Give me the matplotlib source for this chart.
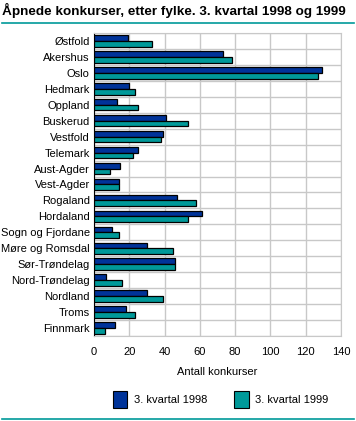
import numpy as np
import matplotlib
matplotlib.use("Agg")
import matplotlib.pyplot as plt
from matplotlib.lines import Line2D

fylker = ["Østfold", "Akershus", "Oslo", "Hedmark", "Oppland", "Buskerud",
          "Vestfold", "Telemark", "Aust-Agder", "Vest-Agder", "Rogaland",
          "Hordaland", "Sogn og Fjordane", "Møre og Romsdal", "Sør-Trøndelag",
          "Nord-Trøndelag", "Nordland", "Troms", "Finnmark"]
kv1998 = [19, 73, 129, 20, 13, 41, 39, 25, 15, 14, 47, 61, 10, 30, 46, 7, 30, 18, 12]
kv1999 = [33, 78, 127, 23, 25, 53, 38, 22, 9, 14, 58, 53, 14, 45, 46, 16, 39, 23, 6]

blue = "#003399"
teal = "#009999"
grid = "#c8c8c8"

plt.rcParams["font.family"] = ["Liberation Sans", "DejaVu Sans"]

fig = plt.figure(figsize=(3.56, 4.21), dpi=100)
ax = fig.add_axes([0.264, 0.202, 0.694, 0.7196])

y = np.arange(len(fylker))
h = 0.36
ax.barh(y - h / 2, kv1998, height=h, color=blue, edgecolor="black", linewidth=0.9, zorder=3)
ax.barh(y + h / 2, kv1999, height=h, color=teal, edgecolor="black", linewidth=0.9, zorder=3)

ax.set_ylim(len(fylker) - 0.5, -0.5)
ax.set_xlim(0, 140)
ax.set_xticks(range(0, 141, 20))
ax.set_yticks(y)
ax.set_yticklabels(fylker, fontsize=8)
ax.tick_params(axis="x", labelsize=8, length=0, pad=8)
ax.tick_params(axis="y", length=0, pad=3)

# horizontal grid between the categories
ax.set_yticks(np.arange(-0.5, len(fylker), 1), minor=True)
ax.grid(True, which="minor", axis="y", color=grid, linewidth=1, zorder=0)
ax.grid(True, which="major", axis="x", color=grid, linewidth=1, zorder=0)
ax.tick_params(axis="y", which="minor", length=0)
for s in ax.spines.values():
    s.set_color(grid)
ax.spines["left"].set_color("black")

ax.set_xlabel("Antall konkurser", fontsize=8, labelpad=7)

fig.text(0.006, 0.976, "Åpnede konkurser, etter fylke. 3. kvartal 1998 og 1999",
         fontsize=9.7, fontweight="bold", va="center", ha="left")
fig.add_artist(Line2D([0.006, 0.994], [0.946, 0.946], color=teal, linewidth=1.2))
fig.add_artist(Line2D([0.006, 0.994], [0.004, 0.004], color=teal, linewidth=1.2))

handles = [plt.Rectangle((0, 0), 1, 1, facecolor=blue, edgecolor="black", linewidth=0.8),
           plt.Rectangle((0, 0), 1, 1, facecolor=teal, edgecolor="black", linewidth=0.8)]
fig.legend(handles, ["3. kvartal 1998", "3. kvartal 1999"], loc="center",
           bbox_to_anchor=(0.62, 0.052), ncol=2, frameon=False, fontsize=8,
           handlelength=1.3, handleheight=2.0, columnspacing=2.4, handletextpad=0.6)

fig.savefig("out.png", dpi=100)
